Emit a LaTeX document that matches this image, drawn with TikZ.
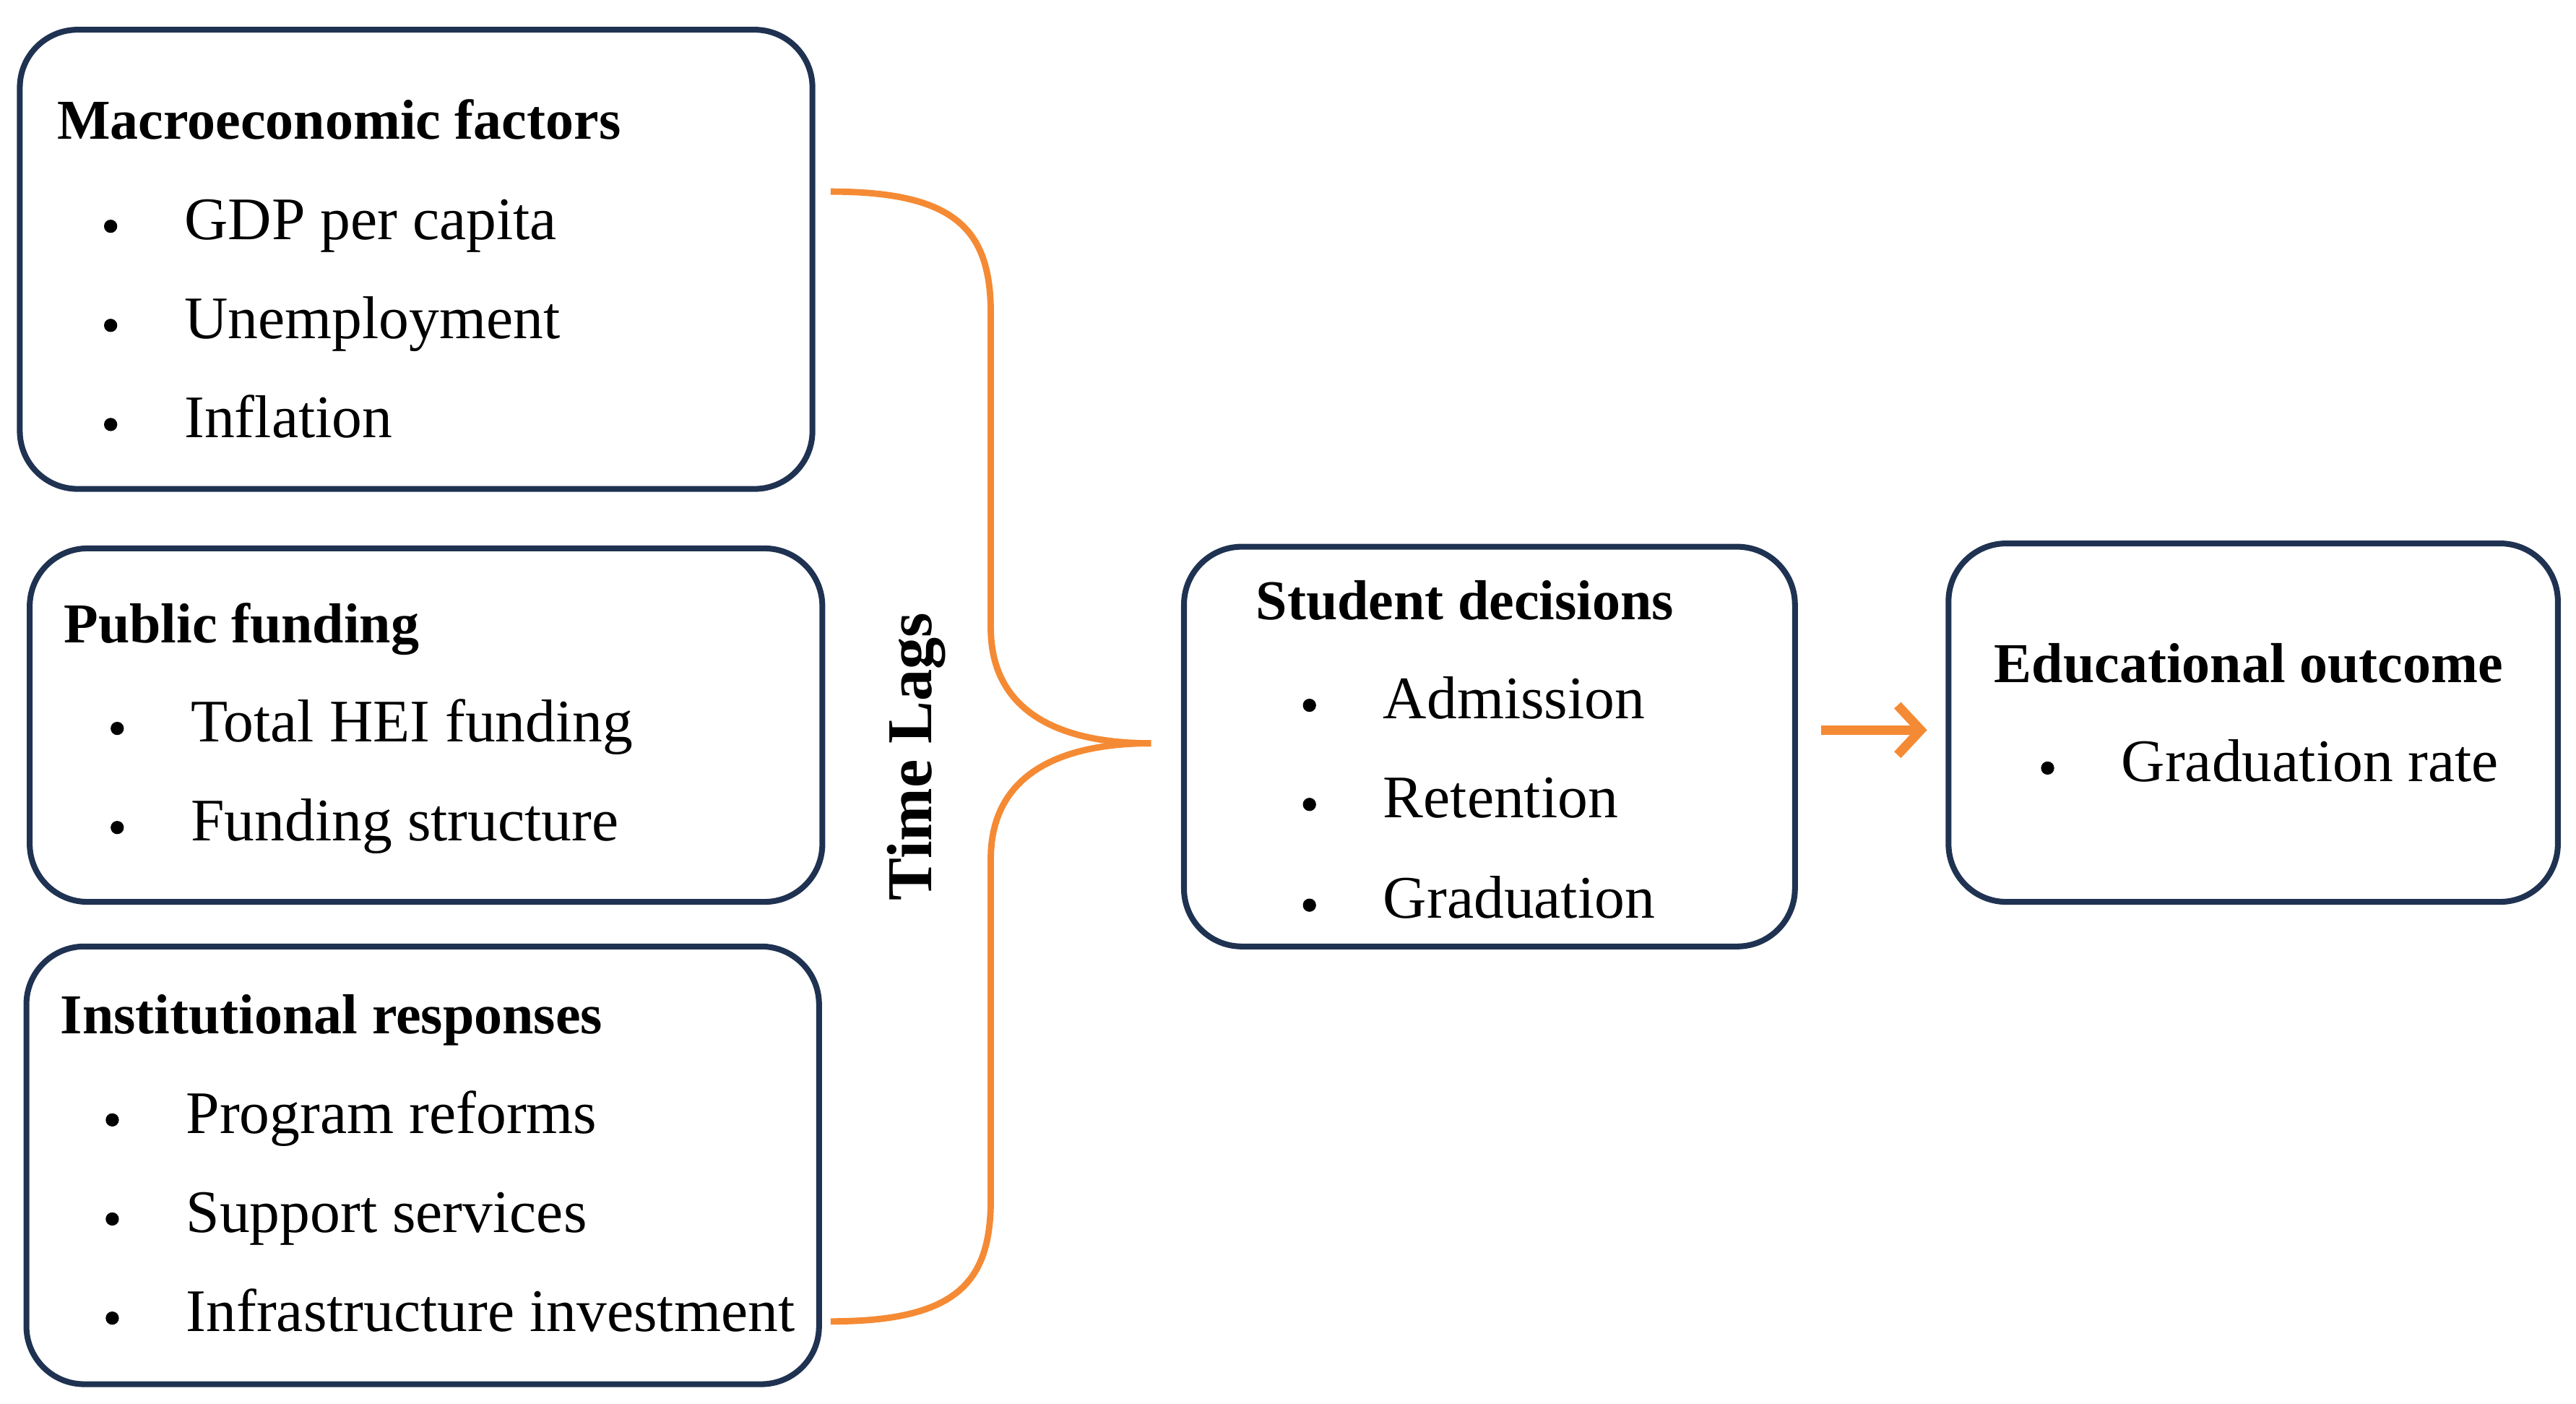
\documentclass[tikz,border=0pt]{standalone}
\usepackage{fontspec}
\setmainfont{Liberation Serif}
\usetikzlibrary{arrows.meta}
\definecolor{navy}{HTML}{1F3251}
\definecolor{org}{HTML}{F58A34}
\begin{document}
\begin{tikzpicture}[x=0.01cm,y=-0.01cm,
 box/.style={draw=navy,line width=1pt,rounded corners=0.35cm},
 hd/.style={anchor=base west,font=\fontsize{9.7}{12}\selectfont\bfseries,inner sep=0},
 it/.style={anchor=base west,font=\fontsize{10.4}{12}\selectfont,inner sep=0},
 bul/.style={circle,fill=black,inner sep=0,minimum size=0.08cm},
 br/.style={draw=org,line width=1.1pt}]
\useasboundingbox (0,0) rectangle (1560,849.6);
\draw[box] (12,18) rectangle (492,296);
\draw[box] (18,332) rectangle (498,546);
\draw[box] (16,573) rectangle (496,838);
\draw[box] (717,331) rectangle (1087,573);
\draw[box] (1180,329) rectangle (1549,546);
% macro
\node[hd] (h1) at (34,84) {Macroeconomic factors};
\foreach \t/\y [count=\i] in {GDP per capita/145,Unemployment/205,Inflation/265}{
 \node[bul] (b1\i) at (67,\y-8) {}; \node[it] (t1\i) at (111,\y) {\t};}
\node[hd] (h2) at (38,389) {Public funding};
\foreach \t/\y [count=\i] in {Total HEI funding/449,Funding structure/509}{
 \node[bul] (b2\i) at (71,\y-8) {}; \node[it] (t2\i) at (115,\y) {\t};}
\node[hd] (h3) at (36,626) {Institutional responses};
\foreach \t/\y [count=\i] in {Program reforms/686,Support services/746,Infrastructure investment/806}{
 \node[bul] (b3\i) at (68,\y-8) {}; \node[it] (t3\i) at (112,\y) {\t};}
\node[hd] (h4) at (760,375) {Student decisions};
\foreach \t/\y [count=\i] in {Admission/435,Retention/495,Graduation/556}{
 \node[bul] (b4\i) at (793,\y-8) {}; \node[it] (t4\i) at (837,\y) {\t};}
\node[hd] (h5) at (1207,413) {Educational outcome};
\node[bul] (b51) at (1240,465) {}; \node[it] (t51) at (1284,473) {Graduation rate};
% brace
\coordinate (bt) at (503,116); \coordinate (bm) at (697,450); \coordinate (bb) at (503,800);
\draw[br] (bt) .. controls (580,116) and (600,140) .. (600,190) -- (600,380)
  .. controls (600,430) and (640,450) .. (bm);
\draw[br] (bb) .. controls (580,800) and (600,776) .. (600,726) -- (600,520)
  .. controls (600,470) and (640,450) .. (bm);
\node[rotate=90,font=\fontsize{11}{13}\selectfont\bfseries] (tl) at (555,458) {Time Lags};
\coordinate (a1) at (1103,442); \coordinate (a2) at (1167,442);
\draw[org,line width=1.6pt,-{Straight Barb[length=0.14cm,width=0.3cm]}] (a1) -- (a2);
\end{tikzpicture}
\end{document}
